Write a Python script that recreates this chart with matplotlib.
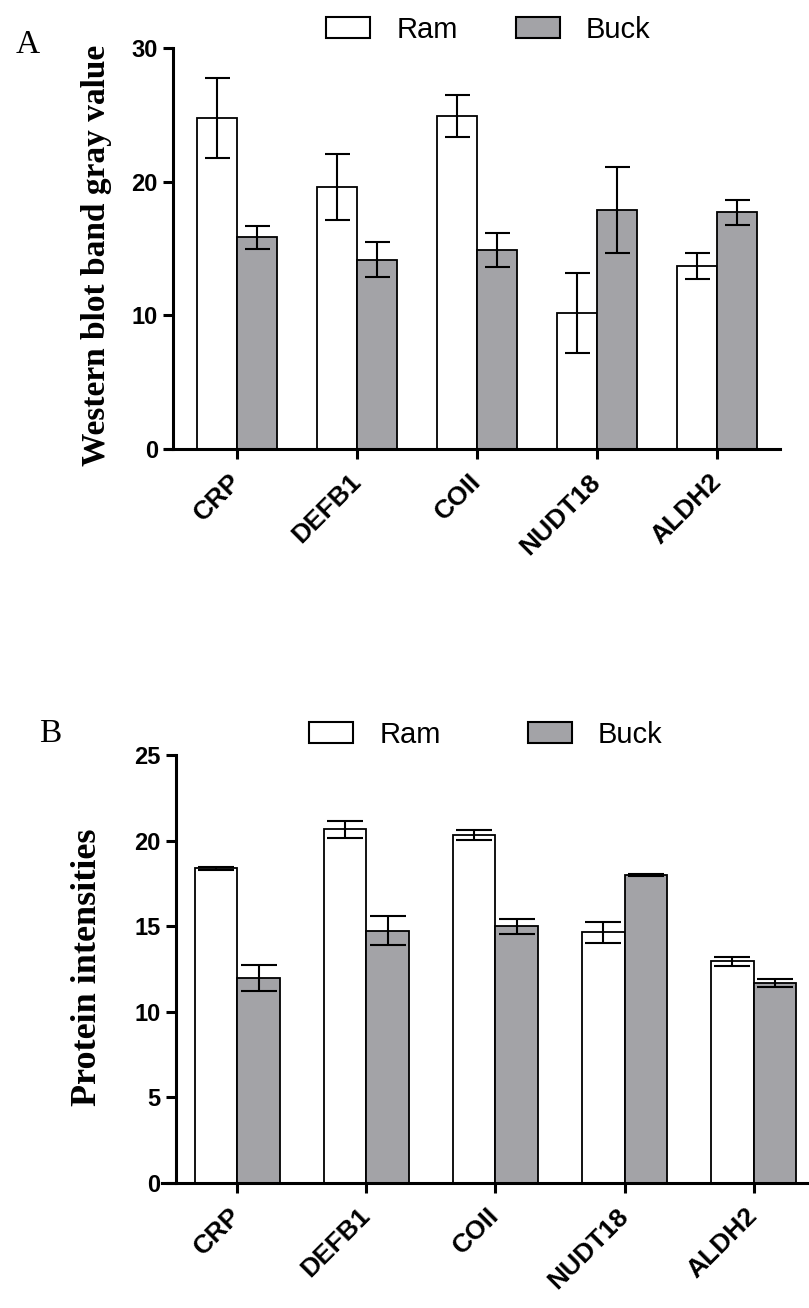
import numpy as np
import matplotlib
matplotlib.use("Agg")
import matplotlib.pyplot as plt
from matplotlib.patches import Patch

genes = ["CRP", "DEFB1", "COII", "NUDT18", "ALDH2"]

# panel A: western blot band gray value
ram_a = [24.75, 19.6, 24.9, 10.15, 13.7]
ram_a_err = [3.0, 2.5, 1.55, 3.0, 0.95]
buck_a = [15.85, 14.15, 14.9, 17.9, 17.7]
buck_a_err = [0.85, 1.3, 1.25, 3.2, 0.95]

# panel B: protein intensities
ram_b = [18.38, 20.66, 20.33, 14.64, 12.94]
ram_b_err = [0.08, 0.5, 0.27, 0.63, 0.24]
buck_b = [11.97, 14.74, 14.99, 17.97, 11.68]
buck_b_err = [0.77, 0.85, 0.42, 0.06, 0.26]

GRAY = "#a3a3a7"
W, H = 809, 1308
fig = plt.figure(figsize=(W / 100, H / 100), dpi=100)

ytickfont = {"family": "Liberation Sans", "weight": "bold", "size": 17}
xtickfont = {"family": "Liberation Sans", "weight": "bold", "size": 19}


def panel(rect, ram, ram_err, buck, buck_err, ylim, yticks, xlim, yaxis_x, cap):
    ax = fig.add_axes(rect)
    # spine position first: moving it resets the ticks
    ax.spines["left"].set_position(("data", yaxis_x))
    x = np.arange(len(genes))
    w = 0.333
    ax.bar(x - w / 2, ram, w, color="white", edgecolor="black", linewidth=1.3, zorder=2)
    ax.bar(x + w / 2, buck, w, color=GRAY, edgecolor="black", linewidth=1.3, zorder=2)
    for xs, ys, es in [(x - w / 2, ram, ram_err), (x + w / 2, buck, buck_err)]:
        ax.errorbar(xs, ys, yerr=es, fmt="none", ecolor="black", elinewidth=1.5,
                    capsize=cap, capthick=1.5, zorder=3)
    ax.set_xlim(*xlim)
    ax.set_ylim(*ylim)
    ax.set_yticks(yticks)
    ax.set_xticks(x)
    ax.set_xticklabels(genes, rotation=45, ha="right", va="center",
                       rotation_mode="anchor", fontdict=xtickfont)
    ax.set_yticklabels([str(t) for t in yticks], fontdict=ytickfont)
    for s in ["top", "right"]:
        ax.spines[s].set_visible(False)
    for s in ["left", "bottom"]:
        ax.spines[s].set_linewidth(2.2)
    ax.tick_params(axis="both", width=2.2, length=7, direction="out")
    ax.tick_params(axis="y", pad=4)
    ax.tick_params(axis="x", pad=14)
    return ax


axA = panel([165 / W, 1 - 449 / H, 615 / W, 401 / H], ram_a, ram_a_err, buck_a, buck_a_err,
            (0, 30), [0, 10, 20, 30], (-0.6, 4.525), -0.533, 9)
axB = panel([162 / W, 1 - 1183 / H, 647 / W, 428 / H], ram_b, ram_b_err, buck_b, buck_b_err,
            (0, 25), [0, 5, 10, 15, 20, 25], (-0.585, 4.43), -0.48, 13)

serif = "Liberation Serif"
fig.text(97 / W, 1 - 255 / H, "Western blot band gray value", rotation=90, ha="center",
         va="center", family=serif, weight="bold", fontsize=24)
fig.text(88 / W, 1 - 967 / H, "Protein intensities", rotation=90, ha="center",
         va="center", family=serif, weight="bold", fontsize=26)
fig.text(28 / W, 1 - 45 / H, "A", ha="center", va="center", family=serif, fontsize=24)
fig.text(50 / W, 1 - 734 / H, "B", ha="center", va="center", family=serif, fontsize=24)

handles = [Patch(facecolor="white", edgecolor="black", linewidth=1.5, label="Ram"),
           Patch(facecolor=GRAY, edgecolor="black", linewidth=1.5, label="Buck")]
legkw = dict(ncol=2, frameon=False, handlelength=1.5, handleheight=0.72,
             handletextpad=0.9, prop={"family": "Liberation Sans", "size": 21})
fig.legend(handles=handles, loc="center left", bbox_to_anchor=(300 / W, 1 - 30 / H),
           columnspacing=2.0, **legkw)
fig.legend(handles=handles, loc="center left", bbox_to_anchor=(283 / W, 1 - 735 / H),
           columnspacing=3.0, **legkw)

plt.savefig("out.png", dpi=100)
